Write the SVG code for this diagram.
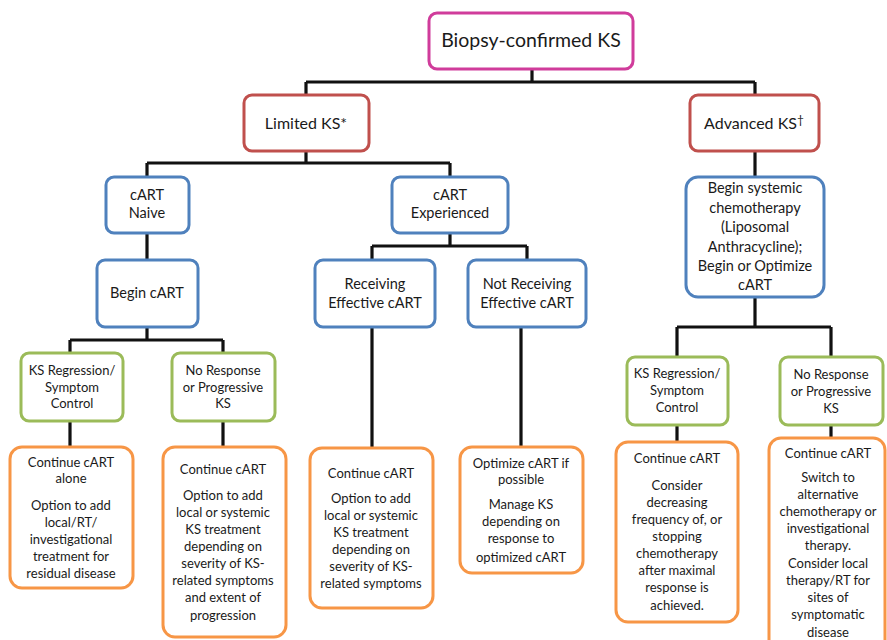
<svg xmlns="http://www.w3.org/2000/svg" width="887" height="640" viewBox="0 0 887 640">
<style>
.box{fill:#fff;stroke-width:3;}
.pink{stroke:#D03C9B;}
.red{stroke:#C0504D;}
.blue{stroke:#4F81BD;}
.green{stroke:#9BBB59;}
.orange{stroke:#F79646;}
text{font-family:Lato,"Open Sans",sans-serif;fill:#1a1a1a;text-anchor:middle;}
.t1{font-size:19.5px;}
.t2{font-size:16px;}
.t3{font-size:14.5px;}
.t4{font-size:13px;}
.conn{fill:none;stroke:#111;stroke-width:3.2;}
</style>
<rect width="887" height="640" fill="#fff"/>
<g id="connectors" class="conn">
<path d="M532 69V82M306 82H755M306 82V95M755 82V95"/>
<path d="M306 151V163M147 163H450M147 163V177M450 163V177"/>
<path d="M147 233V260"/>
<path d="M450 233V246M372 246H527M372 246V259M527 246V259"/>
<path d="M755 151V177"/>
<path d="M147 327V340M70 340H223M70 340V353M223 340V353"/>
<path d="M70 421V447M223 421V447"/>
<path d="M372 327V448M521 327V447"/>
<path d="M755 297V327M677 327H831M677 327V357M831 327V357"/>
<path d="M677 425V442M831 425V438"/>
</g>
<g id="n-biopsy"><rect class="box pink" x="429" y="13" width="204" height="56" rx="8"/><text class="t1" x="531" y="47">Biopsy-confirmed KS</text></g>
<g id="n-limited"><rect class="box red" x="244" y="95" width="125" height="56" rx="8"/><text class="t2" x="306" y="129">Limited KS*</text></g>
<g id="n-advanced"><rect class="box red" x="690" y="95" width="129" height="56" rx="8"/><text class="t2" x="754" y="129">Advanced KS<tspan font-size="12" dy="-5">†</tspan></text></g>
<g id="n-naive"><rect class="box blue" x="106" y="177" width="83" height="56" rx="8"/><text class="t3" x="147" y="200">cART</text><text class="t3" x="147" y="218">Naive</text></g>
<g id="n-experienced"><rect class="box blue" x="392" y="177" width="116" height="56" rx="8"/><text class="t3" x="450" y="200">cART</text><text class="t3" x="450" y="218">Experienced</text></g>
<g id="n-chemo"><rect class="box blue" x="686" y="177" width="138" height="120" rx="12"/>
<text class="t3" x="755" y="193">Begin systemic</text><text class="t3" x="755" y="213">chemotherapy</text><text class="t3" x="755" y="232">(Liposomal</text><text class="t3" x="755" y="252">Anthracycline);</text><text class="t3" x="755" y="271">Begin or Optimize</text><text class="t3" x="755" y="290">cART</text></g>
<g id="n-begin"><rect class="box blue" x="97" y="260" width="101" height="67" rx="8"/><text class="t3" x="147" y="298">Begin cART</text></g>
<g id="n-receiving"><rect class="box blue" x="315" y="260" width="120" height="67" rx="8"/><text class="t3" x="375" y="289">Receiving</text><text class="t3" x="375" y="308">Effective cART</text></g>
<g id="n-notreceiving"><rect class="box blue" x="468" y="260" width="118" height="67" rx="8"/><text class="t3" x="527" y="289">Not Receiving</text><text class="t3" x="527" y="308">Effective cART</text></g>
<g id="n-reg1"><rect class="box green" x="21" y="353" width="102" height="68" rx="8"/><text class="t4" x="72" y="375">KS Regression/</text><text class="t4" x="72" y="392">Symptom</text><text class="t4" x="72" y="408">Control</text></g>
<g id="n-nr1"><rect class="box green" x="172" y="353" width="103" height="68" rx="8"/><text class="t4" x="223" y="375">No Response</text><text class="t4" x="223" y="392">or Progressive</text><text class="t4" x="223" y="408">KS</text></g>
<g id="n-reg2"><rect class="box green" x="627" y="357" width="101" height="68" rx="8"/><text class="t4" x="677" y="378">KS Regression/</text><text class="t4" x="677" y="395">Symptom</text><text class="t4" x="677" y="412">Control</text></g>
<g id="n-nr2"><rect class="box green" x="780" y="357" width="103" height="68" rx="8"/><text class="t4" x="831" y="379">No Response</text><text class="t4" x="831" y="396">or Progressive</text><text class="t4" x="831" y="413">KS</text></g>
<g id="o1"><rect class="box orange" x="10" y="447" width="123" height="141" rx="12"/>
<text class="t4" x="71" y="467">Continue cART</text><text class="t4" x="71" y="483">alone</text><text class="t4" x="71" y="510">Option to add</text><text class="t4" x="71" y="527">local/RT/</text><text class="t4" x="71" y="544">investigational</text><text class="t4" x="71" y="561">treatment for</text><text class="t4" x="71" y="578">residual disease</text></g>
<g id="o2"><rect class="box orange" x="163" y="447" width="123" height="190" rx="12"/>
<text class="t4" x="223" y="474">Continue cART</text><text class="t4" x="223" y="500">Option to add</text><text class="t4" x="223" y="517">local or systemic</text><text class="t4" x="223" y="534">KS treatment</text><text class="t4" x="223" y="551">depending on</text><text class="t4" x="223" y="568">severity of KS-</text><text class="t4" x="223" y="585">related symptoms</text><text class="t4" x="223" y="602">and extent of</text><text class="t4" x="223" y="620">progression</text></g>
<g id="o3"><rect class="box orange" x="310" y="448" width="123" height="160" rx="12"/>
<text class="t4" x="371" y="478">Continue cART</text><text class="t4" x="371" y="503">Option to add</text><text class="t4" x="371" y="520">local or systemic</text><text class="t4" x="371" y="537">KS treatment</text><text class="t4" x="371" y="554">depending on</text><text class="t4" x="371" y="571">severity of KS-</text><text class="t4" x="371" y="588">related symptoms</text></g>
<g id="o4"><rect class="box orange" x="460" y="447" width="123" height="126" rx="12"/>
<text class="t4" x="521" y="468">Optimize cART if</text><text class="t4" x="521" y="484">possible</text><text class="t4" x="521" y="509">Manage KS</text><text class="t4" x="521" y="526">depending on</text><text class="t4" x="521" y="543">response to</text><text class="t4" x="521" y="562">optimized cART</text></g>
<g id="o5"><rect class="box orange" x="616" y="442" width="122" height="180" rx="12"/>
<text class="t4" x="677" y="463">Continue cART</text><text class="t4" x="677" y="490">Consider</text><text class="t4" x="677" y="507">decreasing</text><text class="t4" x="677" y="524">frequency of, or</text><text class="t4" x="677" y="541">stopping</text><text class="t4" x="677" y="558">chemotherapy</text><text class="t4" x="677" y="575">after maximal</text><text class="t4" x="677" y="592">response is</text><text class="t4" x="677" y="610">achieved.</text></g>
<g id="o6"><rect class="box orange" x="769" y="438" width="116" height="215" rx="12"/>
<text class="t4" x="828" y="458">Continue cART</text><text class="t4" x="828" y="482">Switch to</text><text class="t4" x="828" y="499">alternative</text><text class="t4" x="828" y="516">chemotherapy or</text><text class="t4" x="828" y="533">investigational</text><text class="t4" x="828" y="550">therapy.</text><text class="t4" x="828" y="568">Consider local</text><text class="t4" x="828" y="585">therapy/RT for</text><text class="t4" x="828" y="602">sites of</text><text class="t4" x="828" y="619">symptomatic</text><text class="t4" x="828" y="637">disease</text></g>
</svg>
